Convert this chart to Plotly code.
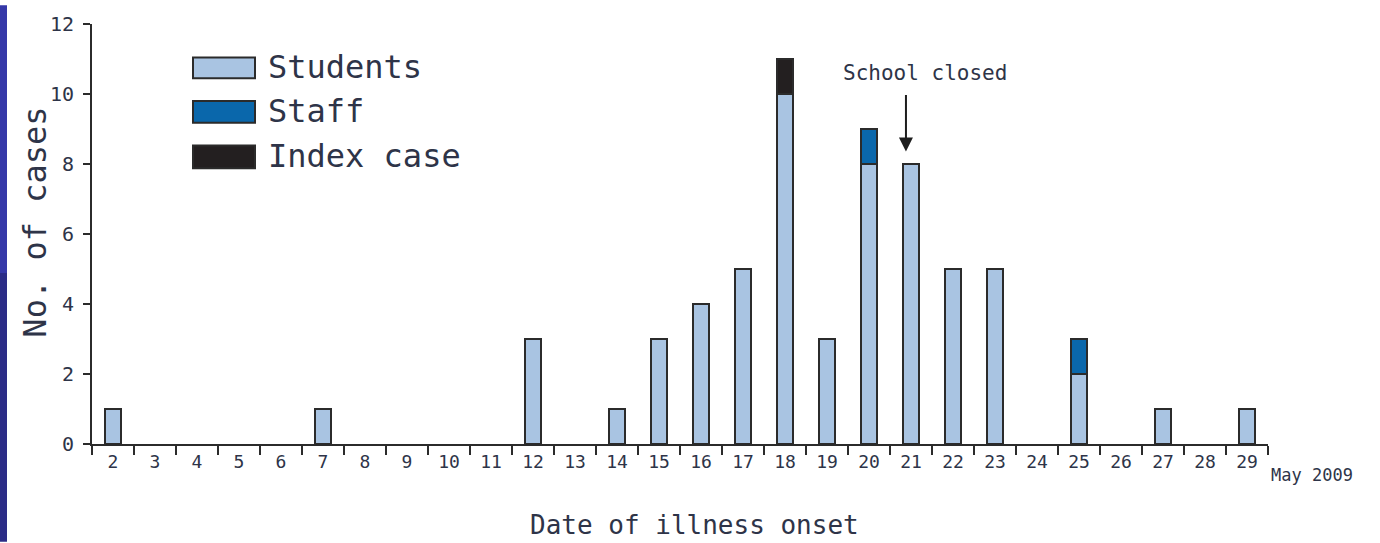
import plotly.graph_objects as go

dates = [str(d) for d in range(2, 30)]
students = [1, 0, 0, 0, 0, 1, 0, 0, 0, 0, 3, 0, 1, 3, 4, 5, 10, 3, 8, 8, 5, 5, 0, 2, 0, 1, 0, 1]
staff =    [0, 0, 0, 0, 0, 0, 0, 0, 0, 0, 0, 0, 0, 0, 0, 0, 0, 0, 1, 0, 0, 0, 0, 1, 0, 0, 0, 0]
index_case = [0, 0, 0, 0, 0, 0, 0, 0, 0, 0, 0, 0, 0, 0, 0, 0, 1, 0, 0, 0, 0, 0, 0, 0, 0, 0, 0, 0]
y_ticks = [0, 2, 4, 6, 8, 10, 12]

FONT = "DejaVu Sans Mono"
C_STU = "#a9c4e2"
C_STAFF = "#0a67ab"
C_INDEX = "#231f20"
EDGE = "#2b2b2b"
TXT = "#2e3448"

W, H = 1380, 543
L, R, T, B = 92, 112, 19, 99
PW, PH = W - L - R, H - T - B


def px(x):
    return (x - L) / PW


def py(y):
    return (H - B - y) / PH


fig = go.Figure()
for name, vals, col in [("Students", students, C_STU), ("Staff", staff, C_STAFF), ("Index case", index_case, C_INDEX)]:
    fig.add_trace(go.Bar(
        x=dates, y=[v if v else None for v in vals], name=name, width=0.38,
        marker=dict(color=col, line=dict(color=EDGE, width=2)),
        showlegend=False,
    ))

shapes = [
    dict(type="rect", xref="paper", yref="paper", x0=px(0), x1=px(7), y0=py(271), y1=py(0),
         fillcolor="#3538a8", line=dict(width=0), layer="below"),
    dict(type="rect", xref="paper", yref="paper", x0=px(0), x1=px(7), y0=py(543), y1=py(271),
         fillcolor="#2b2c86", line=dict(width=0), layer="below"),
]
annotations = []
legend_items = [("Students", C_STU, 53, 74), ("Staff", C_STAFF, 97, 119), ("Index case", C_INDEX, 142, 165)]
for name, col, y0, y1 in legend_items:
    shapes.append(dict(type="rect", xref="paper", yref="paper", x0=px(193), x1=px(255), y0=py(y1), y1=py(y0),
                       fillcolor=col, line=dict(color=EDGE, width=2)))
    annotations.append(dict(xref="paper", yref="paper", x=px(266), y=py((y0 + y1) / 2 - 1), text=name,
                            showarrow=False, xanchor="left", yanchor="middle",
                            font=dict(family=FONT, size=32, color=TXT)))

annotations += [
    dict(xref="paper", yref="paper", x=px(925), y=py(69), text="School closed", showarrow=False,
         xanchor="center", yanchor="middle", font=dict(family=FONT, size=21, color=TXT)),
    dict(x=18.88, y=8.36, xref="x", yref="y", text="", showarrow=True, ax=0, ay=-58,
         arrowhead=2, arrowsize=1.4, arrowwidth=2, arrowcolor="#1e1e1e"),
    dict(xref="paper", yref="paper", x=px(1269), y=py(475), text="May 2009", showarrow=False,
         xanchor="left", yanchor="middle", font=dict(family=FONT, size=17, color=TXT)),
    dict(xref="paper", yref="paper", x=px(694), y=py(526), text="Date of illness onset", showarrow=False,
         xanchor="center", yanchor="middle", font=dict(family=FONT, size=26, color=TXT)),
    dict(xref="paper", yref="paper", x=px(35), y=py(220), text="No. of cases", showarrow=False, textangle=-90,
         xanchor="center", yanchor="middle", font=dict(family=FONT, size=32, color=TXT)),
]

fig.update_layout(
    width=W, height=H,
    margin=dict(l=L, r=R, t=T, b=B),
    paper_bgcolor="white", plot_bgcolor="white",
    barmode="stack",
    shapes=shapes, annotations=annotations,
    font=dict(family=FONT, color=TXT),
    xaxis=dict(type="category", showline=True, linecolor=EDGE, linewidth=2, showgrid=False,
               ticks="outside", tickson="boundaries", ticklen=9, tickwidth=2, tickcolor=EDGE,
               tickfont=dict(family=FONT, size=18, color=TXT), range=[-0.5, 27.5], fixedrange=True),
    yaxis=dict(range=[0, 12], tickvals=y_ticks, showline=True, linecolor=EDGE, linewidth=2, showgrid=False,
               zeroline=False, ticks="outside", ticklen=7, tickwidth=2, tickcolor=EDGE,
               ticklabelstandoff=5, tickfont=dict(family=FONT, size=20, color=TXT)),
)

fig.write_html("out.html", config={"displayModeBar": False},
               post_script="document.body.style.margin='0';document.body.style.overflow='hidden';")
